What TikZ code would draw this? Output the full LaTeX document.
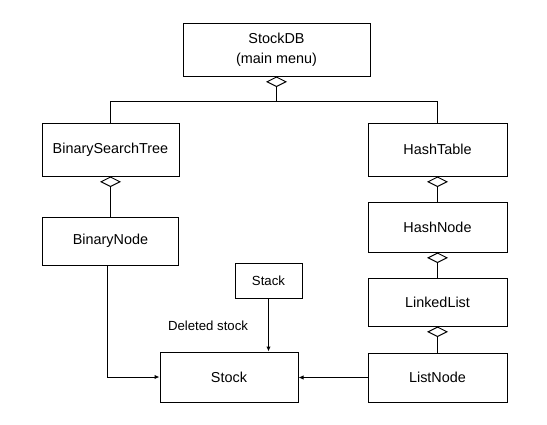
\documentclass[tikz,border=0pt]{standalone}
\usepackage{fontspec}
\setmainfont{Liberation Sans}
\usetikzlibrary{arrows.meta}
\begin{document}
\begin{tikzpicture}[x=1pt,y=-1pt,
  box/.style={draw,line width=1pt,inner sep=0pt,font=\fontsize{14.4}{20}\selectfont,align=center},
  small/.style={font=\fontsize{13.2}{16}\selectfont},
  conn/.style={line width=1pt},
  agg/.style={conn,{Diamond[open,length=10.5pt,width=21pt]}-},
  arr/.style={conn,-{Latex[length=5pt,width=4.5pt]}}]
\useasboundingbox[fill=white] (0,0) rectangle (547,424);
\node[box,minimum width=187pt,minimum height=53pt] (db) at (276.5,49.5) {StockDB\\(main menu)};
\node[box,minimum width=137pt,minimum height=53pt] (bst) at (110.5,149.5) {BinarySearchTree};
\node[box,minimum width=136pt,minimum height=48pt] (bn) at (110.5,241) {BinaryNode};
\node[box,minimum width=139pt,minimum height=53pt] (ht) at (437.5,149.5) {HashTable};
\node[box,minimum width=139pt,minimum height=50pt] (hn) at (437.5,227) {HashNode};
\node[box,minimum width=139pt,minimum height=48pt] (ll) at (437.5,302) {LinkedList};
\node[box,minimum width=139pt,minimum height=49pt] (ln) at (437.5,377.5) {ListNode};
\node[box,minimum width=138pt,minimum height=50pt] (stock) at (229,377) {Stock};
\node[box,small,minimum width=67pt,minimum height=35pt] (stack) at (268.5,280.5) {Stack};
\node[small,inner sep=0pt] (lbl) at (208,326) {Deleted stock};
\coordinate (j) at (276.5,101.5);
\draw[agg] (db.south) -- (j);
\draw[conn] (bst.north) |- (j) -| (ht.north);
\draw[agg] (bst.south) -- (bn.north);
\draw[agg] (ht.south) -- (hn.north);
\draw[agg] (hn.south) -- (ll.north);
\draw[agg] (ll.south) -- (ln.north);
\draw[arr] ([xshift=-3.5pt]bn.south) |- (stock.west);
\draw[arr] (ln.west) -- (ln.west -| stock.east);
\draw[arr] (stack.south) -- (stack.south |- stock.north);
\end{tikzpicture}
\end{document}
